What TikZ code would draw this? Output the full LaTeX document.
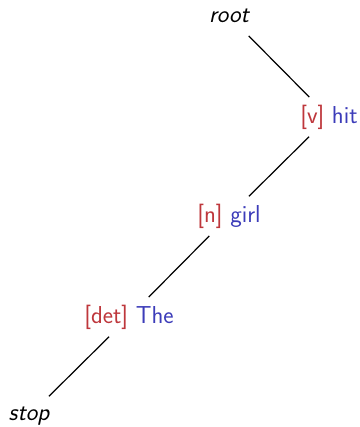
\documentclass[tikz,border=0pt]{standalone}
\usepackage{fontspec}
\setsansfont{Latin Modern Sans}
\definecolor{tagred}{RGB}{190,55,60}
\definecolor{wordblue}{RGB}{60,60,185}
\begin{document}
\begin{tikzpicture}[x=1pt,y=-1pt,
  lbl/.style={font=\sffamily\fontsize{24.5}{28}\selectfont, inner sep=0pt},
  edge/.style={line width=1.2pt, shorten >=28pt, shorten <=28pt}]
\useasboundingbox (0,0) rectangle (359,427);
\node[lbl] (root) at (229,16) {\itshape root};
\node[lbl] (hit) at (329,117) {\textcolor{tagred}{[v]} \textcolor{wordblue}{hit}};
\node[lbl] (girl) at (229,216) {\textcolor{tagred}{[n]} \textcolor{wordblue}{girl}};
\node[lbl] (the) at (129,317) {\textcolor{tagred}{[det]} \textcolor{wordblue}{The}};
\node[lbl] (stop) at (29,416) {\itshape stop};
\draw[edge] (root.center) -- (hit.center);
\draw[edge] (hit.center) -- (girl.center);
\draw[edge] (girl.center) -- (the.center);
\draw[edge] (the.center) -- (stop.center);
\end{tikzpicture}
\end{document}
